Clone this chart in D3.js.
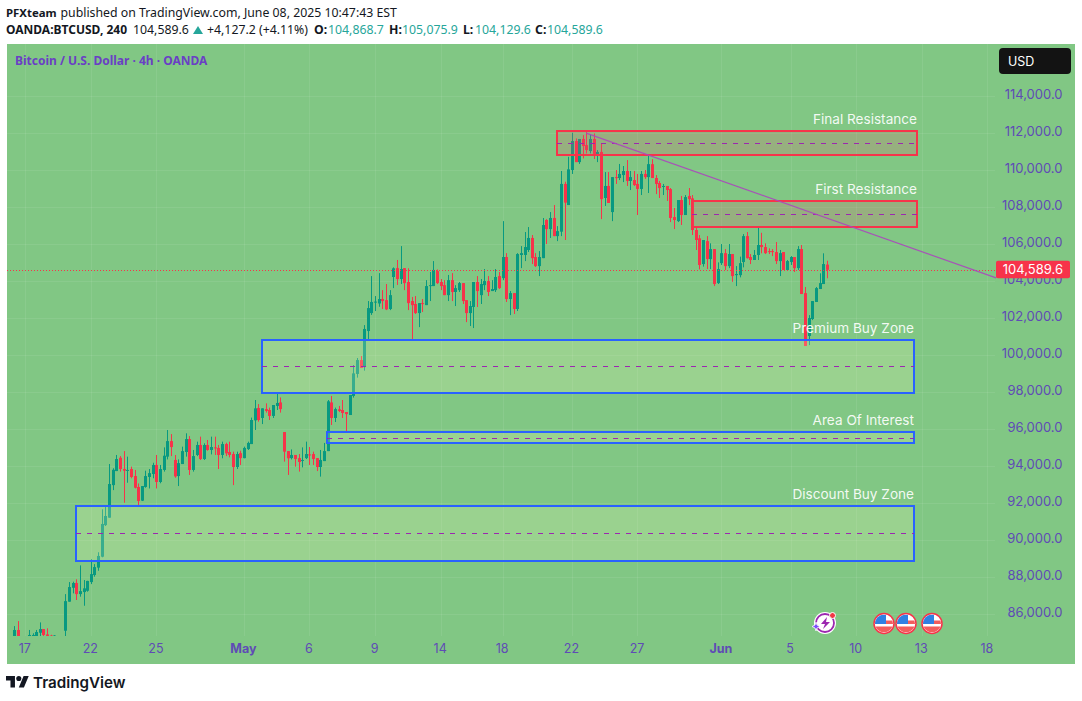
<!DOCTYPE html>
<html><head><meta charset="utf-8">
<script src="https://cdn.jsdelivr.net/npm/d3@7/dist/d3.min.js"></script>
<style>html,body{margin:0;padding:0;background:#fff}svg{display:block}</style></head>
<body><svg id="c" width="1082" height="701"></svg>
<script>
// Prices in thousand USD, one entry per 4h bar
const opens=[84.70,85.12,84.60,84.50,84.65,84.65,84.65,84.97,85.17,84.88,84.82,84.70,84.70,84.60,85.08,86.65,87.40,87.66,87.06,87.17,87.24,87.71,88.09,88.49,89.08,90.79,91.19,92.95,93.71,94.43,93.82,93.73,93.82,93.44,92.85,92.11,92.85,93.39,93.55,94.04,93.12,93.77,94.49,95.33,94.31,93.44,94.09,94.74,95.44,93.77,94.58,95.12,94.36,95.12,94.85,94.99,94.96,94.58,95.17,94.74,94.63,93.93,94.68,94.41,94.90,95.17,96.45,97.12,96.58,97.06,97.01,96.69,97.23,97.42,95.82,94.79,94.41,94.58,94.41,94.27,94.41,94.61,94.63,94.41,93.93,94.25,94.79,97.42,96.58,97.05,97.01,96.90,96.74,97.77,98.96,99.71,99.33,101.28,102.25,102.83,102.77,103.01,102.95,102.47,104.20,104.68,104.09,104.68,103.93,102.90,102.74,102.25,102.79,102.68,103.71,103.71,104.52,103.93,103.76,103.22,104.03,103.39,103.49,103.87,102.95,102.25,102.58,103.93,103.22,103.76,103.98,103.44,103.49,104.25,104.14,105.28,103.01,103.33,102.47,105.39,105.39,105.66,106.31,105.28,104.79,105.22,107.28,106.79,107.39,106.41,106.65,109.23,108.09,109.98,111.55,110.41,111.66,111.33,111.01,111.66,110.85,110.96,108.47,109.12,107.71,109.60,109.55,109.71,109.93,109.39,109.44,109.23,108.96,109.77,109.60,110.30,109.55,109.28,109.08,109.12,108.95,107.44,107.22,108.36,107.55,108.58,108.45,106.74,106.29,104.90,106.14,105.17,105.71,103.87,104.95,105.49,104.79,105.44,104.30,104.30,105.01,106.41,105.28,105.12,105.39,105.93,105.82,105.60,105.60,105.55,105.06,105.55,104.58,105.01,105.28,104.68,105.71,103.33,101.01,101.93,102.85,103.55,103.82,104.87];
const highs=[85.33,85.60,84.75,84.70,85.12,84.94,85.12,85.53,85.17,85.21,84.86,84.84,84.75,84.75,87.06,87.71,87.73,87.86,88.61,87.82,87.78,88.95,88.68,89.32,91.64,91.78,94.09,93.86,94.58,94.52,94.79,94.49,93.95,93.77,93.04,92.90,93.73,93.82,94.16,94.58,94.04,94.99,95.93,95.71,94.58,94.34,95.03,95.75,95.60,94.85,95.30,95.57,95.21,95.39,95.57,95.57,95.12,95.30,95.24,95.30,94.76,94.76,94.81,95.03,95.30,96.60,97.55,97.33,97.10,97.37,97.14,97.28,97.91,97.69,95.82,94.79,94.88,94.58,94.63,94.99,95.30,95.01,94.76,94.41,94.85,95.23,97.55,97.77,97.14,97.23,97.55,96.90,97.82,99.44,99.82,99.93,101.60,102.90,104.25,103.17,104.41,103.49,103.82,103.49,104.72,105.12,105.87,104.68,104.67,103.12,103.17,102.79,103.01,104.03,104.47,105.06,104.61,104.09,104.03,104.31,104.41,103.76,103.93,103.87,102.95,102.90,103.93,104.25,104.09,104.63,104.25,104.03,104.63,104.47,107.22,105.49,103.44,103.33,105.49,105.87,106.63,106.90,106.47,105.49,105.60,107.39,107.33,107.71,108.09,106.95,109.93,109.35,110.70,112.00,111.69,111.66,111.87,112.04,111.93,111.96,111.06,111.42,109.87,109.87,109.60,109.98,110.31,110.20,110.52,109.93,109.93,109.77,109.93,109.98,110.79,110.57,109.71,109.39,109.23,109.12,109.01,107.93,108.36,108.58,108.63,109.01,108.63,106.92,106.47,106.20,106.41,106.02,105.71,104.99,105.98,105.71,105.98,105.44,104.79,105.30,106.52,106.63,105.44,105.66,106.95,106.59,106.02,105.75,105.71,106.09,105.66,105.55,105.12,105.33,105.28,105.87,105.93,103.66,102.14,102.90,103.66,104.40,105.48,105.08];
const lows=[84.60,84.60,84.30,84.30,84.50,84.50,84.50,84.72,84.72,84.72,84.70,84.60,84.40,84.40,84.72,86.65,87.10,86.74,86.92,86.43,87.19,87.60,88.00,88.32,89.05,90.74,91.19,92.68,93.71,93.68,92.00,93.08,93.32,92.77,91.78,92.09,92.81,92.77,93.32,92.77,93.05,93.68,94.34,94.52,93.35,92.90,94.09,94.49,93.50,93.68,94.52,94.31,94.31,94.81,94.61,94.58,93.82,94.40,94.52,94.45,92.95,93.82,94.04,94.40,94.85,95.17,95.93,96.38,96.25,96.87,96.47,96.58,97.01,96.87,94.22,93.50,94.34,93.95,93.68,93.91,94.36,94.04,94.04,93.71,93.41,94.25,94.79,96.20,96.36,96.90,96.58,95.84,96.74,97.68,98.76,99.28,99.14,100.85,102.15,102.36,102.59,102.47,102.41,102.41,103.60,103.77,103.82,103.49,102.41,100.83,102.20,101.49,102.31,102.68,102.90,103.71,103.82,103.49,103.22,102.90,102.90,102.63,103.39,102.74,101.76,101.55,101.44,102.58,102.74,103.49,103.17,103.44,103.39,103.55,104.03,102.85,102.14,102.20,102.36,104.68,105.06,105.55,104.90,104.74,104.25,105.22,105.98,106.31,106.41,106.14,106.41,106.20,108.09,109.77,110.41,110.31,110.61,110.88,110.88,110.58,110.41,107.33,108.04,108.20,107.22,109.23,109.44,109.33,109.12,108.90,109.12,107.55,108.63,109.50,108.74,109.55,108.68,108.47,108.63,108.31,107.17,106.79,107.17,107.01,107.55,108.09,106.47,105.66,104.61,104.76,104.63,104.63,103.71,103.82,104.85,104.58,104.68,103.94,103.71,104.18,104.72,105.19,104.90,105.12,105.12,105.48,105.44,105.44,105.33,104.90,104.25,104.58,104.58,104.85,104.47,104.58,103.28,100.47,100.52,101.87,102.85,103.55,103.82,104.13];
const closes=[85.12,84.75,84.50,84.60,84.85,84.85,85.01,85.17,84.85,84.79,84.79,84.82,84.60,84.70,86.68,87.44,87.66,87.06,87.22,87.37,87.77,88.14,88.52,89.12,90.85,91.28,93.01,93.78,94.36,93.82,93.73,93.77,93.39,92.81,92.09,92.90,93.44,93.60,94.04,93.12,93.82,94.54,95.33,95.01,93.42,94.14,94.79,95.44,93.77,94.52,95.12,94.36,95.12,94.85,95.01,94.97,94.58,95.17,94.67,94.58,93.93,94.63,94.41,94.96,95.23,96.47,97.10,96.47,97.10,96.96,96.69,97.28,97.39,97.06,94.76,94.40,94.58,94.36,94.20,94.31,94.63,94.58,94.36,93.93,94.31,94.79,97.48,96.58,97.06,96.96,96.85,96.79,97.82,98.99,99.71,99.28,101.39,102.52,102.85,102.87,103.01,102.90,102.45,103.22,104.67,104.09,104.63,103.87,102.79,102.68,102.25,102.79,102.76,103.71,103.76,104.58,103.87,103.71,103.22,104.03,103.39,103.60,103.87,102.90,102.25,102.63,103.93,103.44,103.82,103.98,103.39,103.55,104.20,103.60,105.28,103.01,103.33,102.47,105.44,105.49,105.82,106.31,105.22,104.79,105.28,107.01,106.79,107.39,106.41,106.68,109.23,108.22,110.02,111.55,110.41,111.66,111.28,111.06,111.66,110.85,110.96,108.41,109.12,108.20,109.60,109.57,109.77,109.93,109.39,109.60,109.17,108.96,109.77,109.60,110.30,109.55,109.23,109.01,109.12,108.90,107.39,107.28,108.36,107.55,108.52,108.41,106.74,106.20,104.85,106.20,105.17,105.71,103.82,104.63,105.49,104.79,105.44,104.25,104.36,104.95,106.41,105.22,105.12,105.39,105.93,105.82,105.49,105.55,105.55,105.06,105.49,104.58,105.06,105.28,104.68,105.71,103.28,100.47,101.98,102.90,103.60,103.87,104.90,104.59];

const priceTicks=[86,88,90,92,94,96,98,100,102,104,106,108,110,112,114];
const timeTickBars=[3,21,39,63,81,99,117,134,153,171,194,213,231,249,267];
const timeTickLabels=["17","22","25","May","6","9","14","18","22","27","Jun","5","10","13","18"];
const boldTimeLabels=["May","Jun"];

const zoneNames=["Final Resistance","First Resistance","Premium Buy Zone","Area Of Interest","Discount Buy Zone"];
const zoneStartBar=[148.9,186,68,85.8,16.9];
const zoneEndBar=[247.7,247.7,246.9,246.9,246.9];
const zoneTop=[112.09,108.31,100.79,95.82,91.82];
const zoneBottom=[110.79,106.90,97.93,95.23,88.85];
const zoneMid=[111.44,107.60,99.39,95.50,90.37];
const zoneKind=["res","res","buy","buy","buy"];
const trendBars=[156.9,269.4];
const trendPrices=[111.98,104.15];
const lastPrice=104.5896;

const svg=d3.select("#c");
const FONT="Inter, Roboto, sans-serif";
const x=d3.scaleLinear().domain([0,223]).range([14.3,827]);
const y=d3.scaleLinear().domain([86,114]).range([613.7,95.7]);
const fmt=d3.format(",.1f");
const UP="#089981",DOWN="#f7334a",AX="#5f4bb6";
const snap=v=>Math.round(v)+.5;

svg.append("rect").attr("x",7).attr("y",44).attr("width",1068).attr("height",620).attr("fill","#81c784");
const defs=svg.append("defs");
defs.append("clipPath").attr("id","pane").append("rect").attr("x",7).attr("y",44).attr("width",989).attr("height",592);

// grid
const grid=svg.append("g").attr("stroke","#fff").attr("stroke-opacity",.08);
grid.selectAll(".h").data(priceTicks).join("line").attr("x1",7).attr("x2",995).attr("y1",d=>snap(y(d))).attr("y2",d=>snap(y(d)));
grid.selectAll(".v").data(timeTickBars).join("line").attr("x1",d=>snap(x(d))).attr("x2",d=>snap(x(d))).attr("y1",44).attr("y2",636);

// candles
const pane=svg.append("g").attr("clip-path","url(#pane)");
const idx=d3.range(opens.length);
const col=i=>closes[i]>=opens[i]?UP:DOWN;
pane.selectAll(".w").data(idx).join("line").attr("x1",i=>snap(x(i))).attr("x2",i=>snap(x(i)))
  .attr("y1",i=>y(highs[i])).attr("y2",i=>y(lows[i])).attr("stroke",col).attr("stroke-width",1);
pane.selectAll(".b").data(idx).join("rect").attr("x",i=>Math.round(x(i))-1).attr("width",3)
  .attr("y",i=>y(Math.max(opens[i],closes[i])))
  .attr("height",i=>Math.max(1,Math.abs(y(opens[i])-y(closes[i])))).attr("fill",col);

// last price line
svg.append("line").attr("x1",7).attr("x2",996).attr("y1",snap(y(lastPrice))).attr("y2",snap(y(lastPrice)))
  .attr("stroke",DOWN).attr("stroke-dasharray","1 2");

// zones
const zones=svg.append("g");
zoneNames.forEach((n,k)=>{
  const res=zoneKind[k]==="res";
  const x0=Math.round(x(zoneStartBar[k])),x1=Math.round(x(zoneEndBar[k])),t=Math.round(y(zoneTop[k])),b=Math.round(y(zoneBottom[k]));
  zones.append("rect").attr("x",x0).attr("y",t).attr("width",x1-x0).attr("height",b-t)
    .attr("fill",res?"rgba(242,80,110,.2)":"rgba(255,255,190,.2)")
    .attr("stroke",res?DOWN:"#2962ff").attr("stroke-width",2);
  zones.append("line").attr("x1",x0).attr("x2",x1).attr("y1",snap(y(zoneMid[k]))).attr("y2",snap(y(zoneMid[k])))
    .attr("stroke","#9c27b0").attr("stroke-dasharray","5 6");
  zones.append("text").attr("x",x1).attr("y",t-7).attr("text-anchor","end")
    .attr("fill","#fff").attr("fill-opacity",.92).style("font",`13.6px ${FONT}`).text(n);
});

// trend line
svg.append("line").attr("x1",x(trendBars[0])).attr("x2",x(trendBars[1])).attr("y1",y(trendPrices[0])).attr("y2",y(trendPrices[1]))
  .attr("stroke","#ab47bc").attr("stroke-opacity",.9).attr("stroke-width",1.2);

// price axis
const pa=svg.append("g").attr("transform","translate(1062.5,0)").call(d3.axisRight(y).tickValues(priceTicks.slice().reverse()).tickFormat(d=>fmt(d*1000)).tickSize(0).tickPadding(0));
pa.select(".domain").remove();
pa.selectAll("text").attr("text-anchor","end").attr("dy",".32em").attr("y",-1.5).attr("fill",AX).style("font",`13px ${FONT}`);

// time axis
const ta=svg.append("g").attr("transform","translate(-1,644)").call(d3.axisBottom(x).tickValues(timeTickBars).tickFormat((d,i)=>timeTickLabels[i]).tickSize(0).tickPadding(0));
ta.select(".domain").remove();
ta.selectAll("text").attr("dy",".71em").attr("fill",AX)
  .style("font",(d,i)=>`${boldTimeLabels.includes(timeTickLabels[i])?"700 ":""}12.5px ${FONT}`);

// last price tag
svg.append("rect").attr("x",996).attr("y",y(lastPrice)-9).attr("width",74).attr("height",17.5).attr("rx",2).attr("fill",DOWN);
svg.append("text").attr("x",1063).attr("y",y(lastPrice)+4.5).attr("text-anchor","end").attr("fill","#fff").style("font",`13px ${FONT}`).text(fmt(lastPrice*1000));

// USD button
svg.append("rect").attr("x",999).attr("y",48).attr("width",72).attr("height",26).attr("rx",4).attr("fill","#131313");
svg.append("text").attr("x",1008).attr("y",65.5).attr("fill","#fff").style("font",`12.5px ${FONT}`).text("USD");

// titles
svg.append("text").attr("x",15).attr("y",65).attr("fill","#6a3fc4").style("font",`700 12px "Noto Sans", sans-serif`).text("Bitcoin / U.S. Dollar · 4h · OANDA");
const H=`"Noto Sans", sans-serif`,DK="#131722",TEAL="#26a69a";
const hdr=(t,xx,yy,c,b,s)=>svg.append("text").attr("x",xx).attr("y",yy).attr("fill",c).style("font",`${b?"700 ":""}${s||12.3}px ${H}`).text(t);
hdr("PFXteam",6,17,DK,true,11.4);
hdr("published on TradingView.com, June 08, 2025 10:47:43 EST",60.5,17,DK,false);
hdr("OANDA:BTCUSD, 240",6,34,DK,true,12);
hdr("104,589.6",133,34,DK,false);
svg.append("path").attr("d","M193 34L198 26L203 34Z").attr("fill",TEAL);
hdr("+4,127.2 (+4.11%)",207,34,DK,false);
hdr("O:",314,34,DK,true);hdr("104,868.7",328,34,TEAL,false);
hdr("H:",389,34,DK,true);hdr("105,075.9",402,34,TEAL,false);
hdr("L:",463,34,DK,true);hdr("104,129.6",475,34,TEAL,false);
hdr("C:",535,34,DK,true);hdr("104,589.6",547,34,TEAL,false);

// event icons
const icons=svg.append("g");
const cp=defs.append("clipPath").attr("id","fl");cp.append("circle").attr("r",9);
[884,906,932].forEach(cx=>{
  const g=icons.append("g").attr("transform",`translate(${cx},623.5)`);
  g.append("circle").attr("r",10).attr("fill","#fff").attr("stroke","#f7334a").attr("stroke-width",1.5);
  const f=g.append("g").attr("clip-path","url(#fl)");
  f.append("rect").attr("x",-9).attr("y",-3).attr("width",18).attr("height",3.5).attr("fill","#f25d5d");
  f.append("rect").attr("x",-9).attr("y",3).attr("width",18).attr("height",6).attr("fill","#f25d5d");
  f.append("rect").attr("x",-9).attr("y",-9).attr("width",11).attr("height",9.5).attr("fill","#2f80e4");
});
const ev=icons.append("g").attr("transform","translate(825,623)");
ev.append("circle").attr("r",11).attr("fill","#fff");
ev.append("circle").attr("r",9).attr("fill","none").attr("stroke","#9c27b0").attr("stroke-width",1.8);
ev.append("path").attr("d","M2-6L-4 1H0L-2 6L5-1H1Z").attr("fill","#9c27b0");
ev.append("path").attr("d","M-9-1L-8 2L-5 3.500L-8 5L-9 8L-10 5L-13 3.500L-10 2Z").attr("fill","#7c4dff").attr("stroke","#fff").attr("stroke-width",.8);
ev.append("circle").attr("cx",7.500).attr("cy",-7.500).attr("r",3).attr("fill","#f23645").attr("stroke","#fff");

// logo
const lg=svg.append("g").attr("transform","translate(6,673.4) scale(.64)").attr("fill",DK);
lg.append("path").attr("d","M14 22H7V11H0V4h14v18zM28 22h-8l7.5-18h8L28 22z");
lg.append("circle").attr("cx",20).attr("cy",8).attr("r",4);
svg.append("text").attr("x",33).attr("y",688).attr("fill",DK).style("font",`600 15.2px ${FONT}`).text("TradingView");
</script></body></html>
